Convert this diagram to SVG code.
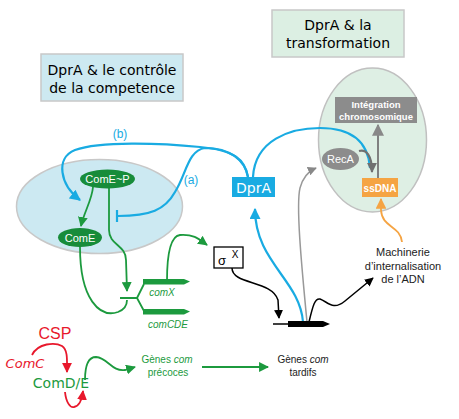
<svg xmlns="http://www.w3.org/2000/svg" width="459" height="419" viewBox="0 0 459 419">
<defs>
<style>
.t{font-family:"Liberation Sans",Arial,sans-serif}
.c{font-family:"DejaVu Sans","Liberation Sans",sans-serif}
.b{fill:none;stroke:#19abe2;stroke-width:2.2}
.g{fill:none;stroke:#1c9a3e;stroke-width:1.8}
.k{fill:none;stroke:#000;stroke-width:1.5}
.r{fill:none;stroke:#e8182c;stroke-width:1.8}
</style>
<marker id="mb" viewBox="0 0 10 10" refX="9" refY="5" markerWidth="5" markerHeight="5" orient="auto"><path d="M0,0L10,5L0,10z" fill="#19abe2"/></marker>
<marker id="mg" viewBox="0 0 10 10" refX="9" refY="5" markerWidth="5.5" markerHeight="5.5" orient="auto"><path d="M0,0L10,5L0,10z" fill="#1c9a3e"/></marker>
<marker id="mk" viewBox="0 0 10 10" refX="9" refY="5" markerWidth="6" markerHeight="6" orient="auto"><path d="M0,0L10,5L0,10z" fill="#000"/></marker>
<marker id="mr" viewBox="0 0 10 10" refX="9" refY="5" markerWidth="5.5" markerHeight="5.5" orient="auto"><path d="M0,0L10,5L0,10z" fill="#e8182c"/></marker>
<marker id="my" viewBox="0 0 10 10" refX="9" refY="5" markerWidth="6" markerHeight="6" orient="auto"><path d="M0,0L10,5L0,10z" fill="#f5a443"/></marker>
<marker id="mgr" viewBox="0 0 10 10" refX="9" refY="5" markerWidth="6" markerHeight="6" orient="auto"><path d="M0,0L10,5L0,10z" fill="#888"/></marker>
<marker id="mdg" viewBox="0 0 10 10" refX="9" refY="5" markerWidth="4.5" markerHeight="4.5" orient="auto"><path d="M0,0L10,5L0,10z" fill="#707070"/></marker>
</defs>
<rect width="459" height="419" fill="#fff"/>

<g id="title1">
<rect x="41" y="54" width="142" height="47" fill="#cde9f1" stroke="#c8c8c8" stroke-width="1.5"/>
<text class="c" x="112" y="75" font-size="14" text-anchor="middle">DprA &amp; le contrôle</text>
<text class="c" x="112" y="93" font-size="14" text-anchor="middle">de la competence</text>
</g>
<g id="title2">
<rect x="272" y="10" width="132" height="47" fill="#dcefe3" stroke="#c8c8c8" stroke-width="1.5"/>
<text class="c" x="338" y="30" font-size="14" text-anchor="middle">DprA &amp; la</text>
<text class="c" x="338" y="48" font-size="14" text-anchor="middle">transformation</text>
</g>

<g id="cell-blue"><ellipse cx="99.5" cy="206.5" rx="83" ry="47" fill="#cce9f2" stroke="#c8c8c8" stroke-width="1.5"/></g>
<g id="cell-green"><ellipse cx="372.5" cy="140" rx="54" ry="72" fill="#deefe4" stroke="#c0c0c0" stroke-width="1.5"/></g>

<g id="connectors">
<!-- blue (b) and (a) -->
<path class="b" d="M248,177 C245,160 235,150 200,147 C160,143 100,141 75,150 C55,158 60,185 80,200" marker-end="url(#mb)"/>
<path class="b" d="M248,177 C245,160 230,148 205,148 C188,150 186,175 175,192 C165,210 150,216 118,216"/>
<path class="b" d="M117,210 V222"/>
<path class="b" d="M253,177 C255,140 290,128 320,128 C350,128 368,140 370,168"/>
<path class="b" d="M303,322 C300,280 255,262 255,209" marker-end="url(#mb)"/>
<!-- green -->
<path class="g" d="M93,187 C92,200 84,212 81,226" marker-end="url(#mg)"/>
<path class="g" d="M109,188 V230 C109,245 126,245 126,260 L127,291" marker-end="url(#mg)"/>
<path class="g" d="M80,247 C80,300 100,318 118,312 C126,309 127,304 127,300"/>
<path class="g" d="M120,298 H137 M137,298 L144,284 M137,298 L144,311"/>
<path class="g" d="M167,281 C167,258 170,236 180,235 C195,234 200,240 207,245" marker-end="url(#mg)"/>
<path class="g" d="M85,380 C85,365 88,357 96,357 C108,358 112,372 125,370 L135,367" marker-end="url(#mg)"/>
<path class="g" d="M202,367 H268" marker-end="url(#mg)"/>
<!-- red -->
<path class="r" d="M32,355 C38,343 55,342 62,346 C68,350 67,360 67,372" marker-end="url(#mr)"/>
<path class="r" d="M65,392 C66,402 70,408 74,407 C79,406 82,400 83,391" marker-end="url(#mr)"/>
<!-- black -->
<path class="k" d="M232,268 C232,285 272,280 278,300 L279,318" marker-end="url(#mk)"/>
<path class="k" d="M309,322 C313,305 315,298 320,299 C328,302 333,311 345,301 L373,278" marker-end="url(#mk)"/>
<!-- gray -->
<path d="M307,322 C301,260 296,205 300,188 C303,177 309,171 316,168" fill="none" stroke="#999" stroke-width="1.5" marker-end="url(#mgr)"/>
<path d="M378,178 V125" fill="none" stroke="#808080" stroke-width="2" marker-end="url(#mgr)"/>
<path d="M359,151 C366,149 372,155 372,172" fill="none" stroke="#707070" stroke-width="2.2" marker-end="url(#mdg)"/>
<!-- orange -->
<path d="M402,242 C400,225 382,228 381,210 L381,199" fill="none" stroke="#f5a443" stroke-width="1.8" marker-end="url(#my)"/>
</g>

<g id="ComEP">
<ellipse cx="107.5" cy="179" rx="27.5" ry="9.5" fill="#178c3a"/>
<text class="t" x="107.5" y="183" font-size="11" fill="#fff" text-anchor="middle">ComE~P</text>
</g>
<g id="ComE">
<ellipse cx="80" cy="237.5" rx="22" ry="9.5" fill="#178c3a"/>
<text class="t" x="80" y="241.5" font-size="11" fill="#fff" text-anchor="middle">ComE</text>
</g>
<g id="labels-ab">
<text class="t" x="120" y="138" font-size="12" fill="#19abe2" text-anchor="middle">(b)</text>
<text class="t" x="191" y="184" font-size="12" fill="#19abe2" text-anchor="middle">(a)</text>
</g>
<g id="DprA">
<rect x="232" y="177" width="43" height="20" fill="#19abe2"/>
<text class="c" x="253.5" y="192.5" font-size="14" fill="#fff" text-anchor="middle">DprA</text>
</g>
<g id="Integration">
<rect x="335" y="97" width="82" height="26" fill="#8c8c8c"/>
<text class="t" x="376" y="108" font-size="9.5" font-weight="bold" fill="#fff" text-anchor="middle">Intégration</text>
<text class="t" x="376" y="120" font-size="9.5" font-weight="bold" fill="#fff" text-anchor="middle">chromosomique</text>
</g>
<g id="RecA">
<ellipse cx="340.5" cy="159" rx="18.5" ry="11" fill="#8c8c8c"/>
<text class="t" x="340.5" y="163" font-size="11" fill="#fff" text-anchor="middle">RecA</text>
</g>
<g id="ssDNA">
<rect x="362" y="178" width="36" height="19" fill="#f5a443"/>
<text class="t" x="380" y="191.5" font-size="10" font-weight="bold" fill="#fff" text-anchor="middle">ssDNA</text>
</g>
<g id="comX">
<path d="M143,279 H184 L190,281.5 L184,284.5 H143 Z" fill="#1c9a3e"/>
<text class="t" x="162" y="296" font-size="10" font-style="italic" fill="#1c9a3e" text-anchor="middle">comX</text>
</g>
<g id="comCDE">
<path d="M143,309 H184 L190,311.5 L184,314.5 H143 Z" fill="#1c9a3e"/>
<text class="t" x="168" y="328" font-size="10" font-style="italic" fill="#1c9a3e" text-anchor="middle">comCDE</text>
</g>
<g id="sigmaX">
<rect x="214" y="247" width="29" height="21" fill="#fff" stroke="#000" stroke-width="1.3"/>
<text class="t" x="222" y="265" font-size="13" text-anchor="middle">σ</text>
<text class="t" x="235" y="258" font-size="10" text-anchor="middle">X</text>
</g>
<g id="lateGene">
<path d="M273,324 H288" stroke="#000" stroke-width="1.5"/>
<path d="M288,321 H323 L330,324 L323,327 H288 Z" fill="#000"/>
</g>
<g id="Machinerie">
<text class="t" x="403" y="256" font-size="11" fill="#222" text-anchor="middle">Machinerie</text>
<text class="t" x="403" y="270" font-size="11" fill="#222" text-anchor="middle">d’internalisation</text>
<text class="t" x="403" y="283" font-size="11" fill="#222" text-anchor="middle">de l’ADN</text>
</g>
<g id="CSP"><text class="t" x="55" y="339" font-size="16" fill="#e8182c" text-anchor="middle">CSP</text></g>
<g id="ComC"><text class="c" x="25" y="368" font-size="13" font-style="italic" fill="#e8182c" text-anchor="middle">ComC</text></g>
<g id="ComDE"><text class="c" x="61" y="388" font-size="14" fill="#1c9a3e" text-anchor="middle">ComD/E</text></g>
<g id="early">
<text class="t" x="167" y="363" font-size="10" fill="#1c9a3e" text-anchor="middle">Gènes <tspan font-style="italic">com</tspan></text>
<text class="t" x="168" y="376" font-size="10" fill="#1c9a3e" text-anchor="middle">précoces</text>
</g>
<g id="late">
<text class="t" x="303" y="363" font-size="10" fill="#222" text-anchor="middle">Gènes <tspan font-style="italic">com</tspan></text>
<text class="t" x="303" y="376" font-size="10" fill="#222" text-anchor="middle">tardifs</text>
</g>
</svg>
